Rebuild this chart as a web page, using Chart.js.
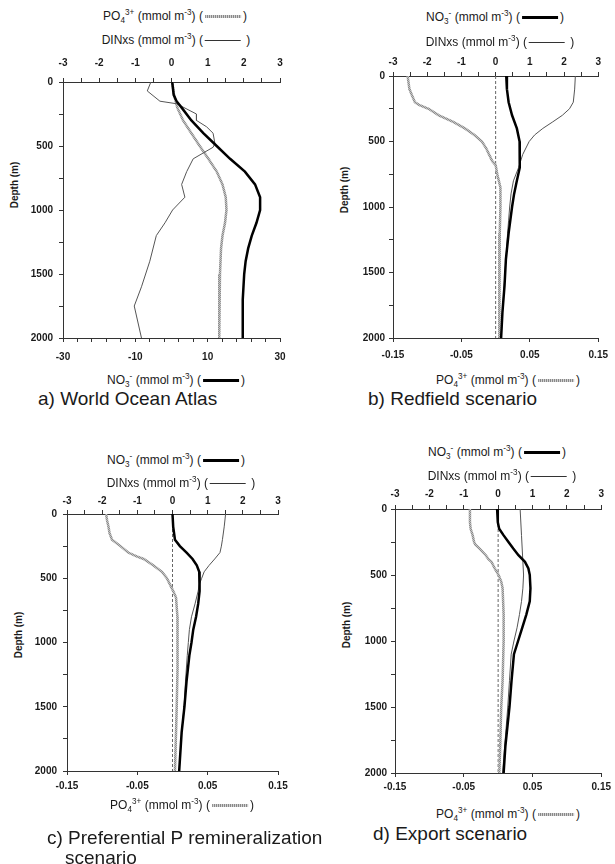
<!DOCTYPE html>
<html><head><meta charset="utf-8">
<script src="https://cdn.jsdelivr.net/npm/chart.js@4"></script>
<style>
html,body{margin:0;padding:0;background:#fff;overflow:hidden;width:615px;height:864px;}
body{position:relative;font-family:"Liberation Sans",Arial,sans-serif;color:#1a1a1a;}
canvas{position:absolute;}
.t{position:absolute;white-space:nowrap;font-size:12px;transform:translate(-50%,-50%);line-height:1;}
.t sub,.t sup{font-size:0.68em;line-height:0;}
.cap{position:absolute;white-space:nowrap;font-size:19px;line-height:1;transform:translateY(-50%);}
.yt{position:absolute;font-size:10px;font-weight:bold;white-space:nowrap;transform:translate(-50%,-50%) rotate(-90deg);}
.ls{display:inline-block;vertical-align:middle;width:36px;margin:0 2px 0 2px;}
.thick{height:0;border-top:3px solid #000;}
.thin{height:0;border-top:1px solid #333;}
.dot{height:3px;background:repeating-linear-gradient(90deg,#888 0 1px,#d0d0d0 1px 2px);}
</style>
</head><body>
<canvas id="ca"></canvas><canvas id="cb"></canvas><canvas id="cc"></canvas><canvas id="cd"></canvas>

<div class="t" style="left:175px;top:16px">PO<sub>4</sub><sup>3+</sup> (mmol m<sup>-3</sup>) (<span class="ls dot"></span>)</div>
<div class="t" style="left:176px;top:40px">DINxs (mmol m<sup>-3</sup>) (<span class="ls thin"></span> )</div>
<div class="t" style="left:176px;top:380px">NO<sub>3</sub><sup>-</sup> (mmol m<sup>-3</sup>) (<span class="ls thick"></span>)</div>
<div class="cap" style="left:38px;top:398px">a) World Ocean Atlas</div>
<div class="yt" style="left:14px;top:185px">Depth (m)</div>

<div class="t" style="left:495px;top:17px">NO<sub>3</sub><sup>-</sup> (mmol m<sup>-3</sup>) (<span class="ls thick"></span>)</div>
<div class="t" style="left:500px;top:42px">DINxs (mmol m<sup>-3</sup>) (<span class="ls thin"></span> )</div>
<div class="t" style="left:508px;top:380px">PO<sub>4</sub><sup>3+</sup> (mmol m<sup>-3</sup>) (<span class="ls dot"></span>)</div>
<div class="cap" style="left:368px;top:398px">b) Redfield scenario</div>
<div class="yt" style="left:344px;top:190px">Depth (m)</div>

<div class="t" style="left:176px;top:460px">NO<sub>3</sub><sup>-</sup> (mmol m<sup>-3</sup>) (<span class="ls thick"></span>)</div>
<div class="t" style="left:181px;top:483px">DINxs (mmol m<sup>-3</sup>) (<span class="ls thin"></span> )</div>
<div class="t" style="left:182px;top:805px">PO<sub>4</sub><sup>3+</sup> (mmol m<sup>-3</sup>) (<span class="ls dot"></span>)</div>
<div class="cap" style="left:47px;top:837px">c) Preferential P remineralization</div>
<div class="cap" style="left:65px;top:857px">scenario</div>
<div class="yt" style="left:18px;top:635px">Depth (m)</div>

<div class="t" style="left:497px;top:452px">NO<sub>3</sub><sup>-</sup> (mmol m<sup>-3</sup>) (<span class="ls thick"></span>)</div>
<div class="t" style="left:502px;top:476px">DINxs (mmol m<sup>-3</sup>) (<span class="ls thin"></span> )</div>
<div class="t" style="left:508px;top:814px">PO<sub>4</sub><sup>3+</sup> (mmol m<sup>-3</sup>) (<span class="ls dot"></span>)</div>
<div class="cap" style="left:373px;top:833px">d) Export scenario</div>
<div class="yt" style="left:346px;top:625px">Depth (m)</div>

<script>
// ---------- tick values / labels ----------
const depthTicks = [0,250,500,750,1000,1250,1500,1750,2000];
const depthLabels = [0,500,1000,1500,2000];
const topTicks = [-3,-2.5,-2,-1.5,-1,-0.5,0,0.5,1,1.5,2,2.5,3];
const topLabels = [-3,-2,-1,0,1,2,3];
const no3BottomTicks = [-30,-26,-22,-18,-14,-10,-6,-2,2,6,10,14,18,22,26,30];
const no3BottomLabels = [-30,-10,10,30];
const po4BottomTicks = [-0.15,-0.05,0.05,0.15];
const po4BottomLabels = [-0.15,-0.05,0.05,0.15];
const zeroLineX = [0, 0];
const zeroLineDepth = [0, 2000];

// ---------- a) World Ocean Atlas ----------
const aNO3Depth = [0,100,150,200,300,400,500,600,700,800,900,1000,1100,1200,1300,1400,1500,1700,2000];
const aNO3 = [0.2,0.6,1.4,2.8,5.5,8.8,12.5,16.2,20.3,23.1,24.5,24.5,23.5,22.2,21.2,20.5,20.1,19.7,19.7];
const aPO4Depth = [0,100,200,300,400,500,600,700,800,900,1000,1100,1200,1300,1500,2000];
const aPO4 = [0.02,0.07,0.16,0.32,0.55,0.78,1.02,1.25,1.41,1.5,1.52,1.48,1.41,1.37,1.34,1.32];
const aDINDepth = [0,70,150,170,250,300,350,400,480,510,600,700,800,900,1000,1100,1200,1400,1600,1750,2000];
const aDIN = [-0.57,-0.67,-0.32,0.14,0.69,0.69,0.97,1.15,1.2,1.15,0.6,0.42,0.28,0.37,0.03,-0.18,-0.42,-0.6,-0.83,-1.03,-0.83];

// ---------- b) Redfield scenario ----------
const bNO3Depth = [0,100,200,300,400,500,600,700,800,900,1000,1100,1200,1400,1600,1800,2000];
const bNO3 = [0.31,0.33,0.38,0.48,0.62,0.7,0.71,0.7,0.62,0.54,0.48,0.43,0.38,0.3,0.26,0.2,0.16];
const bDINDepth = [0,100,200,250,300,350,400,450,500,600,700,800,900,1000,1100,1200,1400,1600,1800,2000];
const bDIN = [2.33,2.31,2.27,2.16,1.95,1.67,1.38,1.14,0.98,0.79,0.67,0.52,0.45,0.41,0.38,0.35,0.3,0.25,0.2,0.16];
const bPO4Depth = [0,100,150,200,220,250,300,350,400,450,500,550,600,650,680,750,850,1000,1200,1500,2000];
const bPO4 = [-0.1286,-0.126,-0.122,-0.118,-0.112,-0.098,-0.083,-0.062,-0.045,-0.031,-0.020,-0.014,-0.0095,-0.005,0,0.0024,0.007,0.007,0.006,0.0057,0.005];

// ---------- c) Preferential P remineralization ----------
const cNO3Depth = [0,100,200,250,300,350,400,450,500,600,700,800,900,1000,1100,1300,1500,1700,2000];
const cNO3 = [0,0.02,0.07,0.21,0.4,0.57,0.69,0.76,0.78,0.76,0.73,0.67,0.59,0.54,0.48,0.4,0.34,0.26,0.19];
const cDINDepth = [0,100,200,250,300,350,400,450,500,550,600,700,800,900,1000,1100,1300,1500,1700,2000];
const cDIN = [1.51,1.47,1.42,1.39,1.35,1.2,1.04,0.9,0.83,0.76,0.73,0.64,0.54,0.48,0.45,0.42,0.37,0.33,0.26,0.19];
const cPO4Depth = [0,50,100,150,200,250,300,330,350,400,450,500,550,600,650,800,1000,1200,1500,2000];
const cPO4 = [-0.0944,-0.093,-0.091,-0.0895,-0.086,-0.074,-0.063,-0.051,-0.041,-0.027,-0.015,-0.008,-0.0035,0.001,0.005,0.007,0.0073,0.007,0.006,0.0035];

// ---------- d) Export scenario ----------
const dNO3Depth = [0,100,150,200,250,300,350,400,450,500,600,700,800,900,1000,1100,1300,1500,1800,2000];
const dNO3 = [-0.03,-0.01,0.03,0.16,0.3,0.44,0.59,0.78,0.88,0.92,0.94,0.92,0.82,0.7,0.58,0.46,0.39,0.33,0.21,0.16];
const dDINDepth = [0,200,400,500,600,700,800,900,1000,1100,1300,1500,1800,2000];
const dDIN = [0.64,0.68,0.72,0.74,0.72,0.68,0.62,0.55,0.46,0.38,0.33,0.28,0.19,0.13];
const dPO4Depth = [0,100,150,200,250,270,300,350,380,400,450,500,550,600,800,1000,1300,1500,1800,2000];
const dPO4 = [-0.041,-0.041,-0.040,-0.037,-0.035,-0.033,-0.027,-0.018,-0.014,-0.0098,-0.005,0.0007,0.0045,0.0065,0.008,0.008,0.0065,0.0045,0.003,0.0017];

// ---------- helpers ----------
const pts = (xs, ys) => xs.map((x, i) => ({x: x, y: ys[i]}));
const INK = '#1a1a1a';
const AXC = '#333';

// stippled grey texture for the PO4 line
const pc = document.createElement('canvas');
pc.width = 2; pc.height = 2;
const pctx = pc.getContext('2d');
pctx.fillStyle = '#c4c4c4'; pctx.fillRect(0, 0, 2, 2);
pctx.fillStyle = '#8c8c8c'; pctx.fillRect(0, 0, 1, 1); pctx.fillRect(1, 1, 1, 1);
const po4Pattern = pctx.createPattern(pc, 'repeat');

function xAxis(pos, min, max, ticks, labels, pad) {
  return {
    type: 'linear', position: pos, min: min, max: max,
    afterBuildTicks: s => { s.ticks = ticks.map(v => ({value: v})); },
    afterFit: s => { s.height = 28; },
    ticks: {autoSkip: false, maxRotation: 0, minRotation: 0, padding: pad,
      font: {size: 10, weight: 'bold'}, color: INK,
      callback: v => labels.some(l => Math.abs(l - v) < 1e-9) ? String(v) : ''},
    grid: {drawOnChartArea: false, drawTicks: true, tickLength: 4, color: AXC, lineWidth: 1},
    border: {display: true, color: AXC, width: 1}
  };
}
function yAxis(pad) {
  return {
    type: 'linear', position: 'left', reverse: true, min: 0, max: 2000,
    afterBuildTicks: s => { s.ticks = depthTicks.map(v => ({value: v})); },
    afterFit: s => { s.width = 40; },
    ticks: {autoSkip: false, padding: pad, font: {size: 10, weight: 'bold'}, color: INK,
      callback: v => depthLabels.includes(v) ? String(v) : ''},
    grid: {drawOnChartArea: false, drawTicks: true, tickLength: 4, color: AXC, lineWidth: 1},
    border: {display: true, color: AXC, width: 1}
  };
}
function ds(data, axis, kind) {
  const st = {
    no3: {borderColor: '#000', borderWidth: 2.5},
    din: {borderColor: '#555', borderWidth: 1},
    po4: {borderColor: po4Pattern, borderWidth: 2.5},
    zero: {borderColor: '#666', borderWidth: 1, borderDash: [3, 2]}
  }[kind];
  return Object.assign({data: data, xAxisID: axis, yAxisID: 'y', showLine: true,
    pointRadius: 0, fill: false, tension: 0}, st);
}
function panel(id, box, datasets, scales, padR) {
  const c = document.getElementById(id);
  const w = box.R - box.L + 40 + padR, h = box.B - box.T + 56;
  c.width = w; c.height = h;
  c.style.left = (box.L - 40) + 'px'; c.style.top = (box.T - 28) + 'px';
  c.style.width = w + 'px'; c.style.height = h + 'px';
  new Chart(c, {
    type: 'scatter',
    data: {datasets: datasets},
    options: {
      responsive: false, animation: false, devicePixelRatio: 1,
      layout: {padding: {left: 0, top: 0, bottom: 0, right: padR}},
      plugins: {legend: {display: false}, tooltip: {enabled: false}},
      scales: scales
    }
  });
}
Chart.defaults.font.family = '"Liberation Sans", Arial, sans-serif';

// a
panel('ca', {L: 63, R: 280, T: 82, B: 338}, [
  ds(pts(aNO3, aNO3Depth), 'xb', 'no3'),
  ds(pts(aDIN, aDINDepth), 'xt', 'din'),
  ds(pts(aPO4, aPO4Depth), 'xt', 'po4')
], {
  xt: xAxis('top', -3, 3, topTicks, topLabels, 9),
  xb: xAxis('bottom', -30, 30, no3BottomTicks, no3BottomLabels, 9),
  y: yAxis(6)
}, 20);

// b
panel('cb', {L: 393, R: 603, T: 76, B: 338}, [
  ds(pts(bNO3, bNO3Depth), 'xt', 'no3'),
  ds(pts(bDIN, bDINDepth), 'xt', 'din'),
  ds(pts(bPO4, bPO4Depth), 'xb', 'po4'),
  ds(pts(zeroLineX, zeroLineDepth), 'xb', 'zero')
], {
  xt: xAxis('top', -3, 3, topTicks, topLabels, 4),
  xb: xAxis('bottom', -0.15, 0.15, po4BottomTicks, po4BottomLabels, 7),
  y: yAxis(4)
}, 12);

// c
panel('cc', {L: 67, R: 278, T: 514, B: 771}, [
  ds(pts(cNO3, cNO3Depth), 'xt', 'no3'),
  ds(pts(cDIN, cDINDepth), 'xt', 'din'),
  ds(pts(cPO4, cPO4Depth), 'xb', 'po4'),
  ds(pts(zeroLineX, zeroLineDepth), 'xb', 'zero')
], {
  xt: xAxis('top', -3, 3, topTicks, topLabels, 3),
  xb: xAxis('bottom', -0.15, 0.15, po4BottomTicks, po4BottomLabels, 5),
  y: yAxis(6)
}, 20);

// d
panel('cd', {L: 395, R: 604, T: 509, B: 773}, [
  ds(pts(dNO3, dNO3Depth), 'xt', 'no3'),
  ds(pts(dDIN, dDINDepth), 'xt', 'din'),
  ds(pts(dPO4, dPO4Depth), 'xb', 'po4'),
  ds(pts(zeroLineX, zeroLineDepth), 'xb', 'zero')
], {
  xt: xAxis('top', -3, 3, topTicks, topLabels, 5),
  xb: xAxis('bottom', -0.15, 0.15, po4BottomTicks, po4BottomLabels, 4),
  y: yAxis(4)
}, 11);
</script>
</body></html>
